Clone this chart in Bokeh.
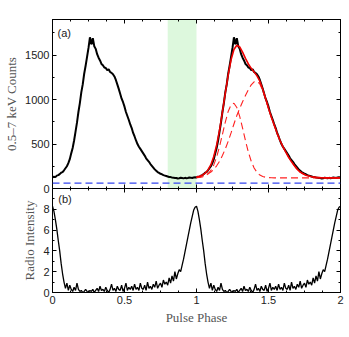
import numpy as np
from bokeh.plotting import figure
from bokeh.layouts import column
from bokeh.models import (Range1d, LinearAxis, BoxAnnotation, Span, Label, SingleIntervalTicker,
                          FixedTicker, CustomJSTickFormatter)
from bokeh.embed import file_html
from bokeh.resources import INLINE

# ---------------- data ----------------
# X-ray (0.5-7 keV) pulse profile, one cycle sampled every 0.01 in phase
XRAY_STEP = 0.01
XRAY_CYCLE = [
    125, 132, 128, 145, 150, 162, 178, 185, 205, 228,
    250, 285, 330, 395, 455, 540, 640, 740, 860, 960,
    1080, 1170, 1290, 1380, 1480, 1580, 1700, 1620, 1690, 1600,
    1570, 1510, 1470, 1440, 1400, 1385, 1360, 1355, 1330, 1340,
    1310, 1300, 1285, 1260, 1220, 1170, 1120, 1065, 1010, 970,
    920, 860, 815, 770, 720, 680, 625, 585, 540, 500,
    470, 445, 420, 395, 370, 340, 320, 300, 275, 255,
    235, 215, 200, 185, 175, 165, 160, 150, 145, 140,
    135, 130, 128, 124, 122, 118, 118, 112, 115, 120,
    117, 114, 120, 116, 118, 123, 122, 118, 124, 126,
]

# radio pulse profile, one cycle sampled every 0.01 in phase
RADIO_STEP = 0.01
RADIO_CYCLE = [
    8.3, 7.8, 7.0, 6.1, 5.0, 4.0, 2.8, 1.8, 1.0, 0.4,
    0.9, 0.2, 0.7, 0.3, 0.1, 0.5, 0.2, 0.9, 0.3, 0.1,
    0.2, 0.0, 0.1, 0.3, 0.1, 0.0, 0.2, 0.1, 0.3, 0.0,
    0.2, 0.4, 0.1, 0.6, 0.2, 0.3, 0.1, 0.5, 0.2, 0.0,
    0.3, 0.8, 0.2, 0.4, 0.1, 0.6, 0.3, 0.2, 0.7, 0.1,
    0.4, 0.9, 0.2, 0.5, 0.3, 0.6, 0.2, 0.8, 0.3, 0.5,
    0.2, 0.9, 0.4, 0.3, 0.7, 0.2, 1.0, 0.4, 0.6, 0.3,
    0.8, 0.5, 1.1, 0.4, 0.7, 0.9, 0.5, 1.2, 0.8, 1.0,
    0.7, 1.4, 0.9, 1.6, 1.1, 2.0, 1.3, 1.8, 2.2, 2.0,
    2.6, 3.2, 3.9, 4.6, 5.3, 6.0, 6.7, 7.3, 7.9, 8.2,
]

# fit (second cycle): phases and the two dashed components (each includes the constant level)
FIT_START = 1.0
FIT_STEP = 0.02
FIT_BASE = 120
FIT_NARROW = [
    122, 124, 130, 141, 164, 203, 265, 355, 472, 608,
    747, 866, 942, 958, 911, 811, 679, 538, 410, 306,
    231, 181, 151, 135, 126, 123, 121,
    120, 120, 120, 120, 120, 120, 120, 120, 120, 120, 120, 120,
    120, 120, 120, 120, 120, 120, 120, 120, 120, 120, 120, 120,
]
FIT_BROAD = [
    128, 133, 140, 150, 165, 185, 215, 255, 305, 370,
    445, 530, 625, 725, 820, 900, 975, 1045, 1110, 1165,
    1200, 1205, 1175, 1100, 1005, 900, 800, 710, 620, 540,
    470, 410, 350, 300, 255, 215, 185, 165, 150, 140,
    133, 128, 124, 122, 121, 120, 120, 120, 120, 120, 120,
]

BKG_LEVEL = 60          # blue dashed background level
ON_WINDOW = (0.8, 1.0)  # green shaded phase interval
N_CYCLES = 2

# ---------------- derived series ----------------
xray_y = np.concatenate([np.tile(XRAY_CYCLE, N_CYCLES), [XRAY_CYCLE[0]]])
xray_x = np.arange(len(xray_y)) * XRAY_STEP
radio_y = np.concatenate([np.tile(RADIO_CYCLE, N_CYCLES), [RADIO_CYCLE[0]]])
radio_x = np.arange(len(radio_y)) * RADIO_STEP
fit_x = FIT_START + np.arange(len(FIT_NARROW)) * FIT_STEP
fit_total = np.array(FIT_NARROW) + np.array(FIT_BROAD) - FIT_BASE

SERIF = "Liberation Serif"
SANS = "Liberation Sans"
LBL_COLOR = "#555555"
TICK_COLOR = "#222222"
OVERLAP = 6  # px of the top canvas (below its frame) that the bottom canvas overlaps


def style_axis(ax, show_labels=True):
    ax.major_tick_in = 4
    ax.major_tick_out = 0
    ax.minor_tick_in = 2
    ax.minor_tick_out = 0
    ax.major_tick_line_color = "black"
    ax.minor_tick_line_color = "black"
    ax.axis_line_color = "black"
    if show_labels:
        ax.major_label_text_font = SANS
        ax.major_label_text_font_size = "11px"
        ax.major_label_text_color = TICK_COLOR
        ax.major_label_standoff = 3
        ax.axis_label_text_font = SERIF
        ax.axis_label_text_font_size = "13px"
        ax.axis_label_text_font_style = "normal"
        ax.axis_label_text_color = LBL_COLOR
        ax.axis_label_standoff = 3
    else:
        ax.formatter = CustomJSTickFormatter(code="return ''")
        ax.major_label_text_font_size = "1px"
        ax.major_label_standoff = 0
        ax.axis_label = None


x_ticker = lambda: SingleIntervalTicker(interval=0.5, num_minor_ticks=4)
y1_ticker = lambda: SingleIntervalTicker(interval=500, num_minor_ticks=2)
y2_ticker = lambda: FixedTicker(ticks=[0, 2, 4, 6, 8], minor_ticks=[1, 3, 5, 7, 9])

# ---------------- top panel ----------------
p1 = figure(width=345, height=188 + OVERLAP, x_range=Range1d(0, 2), y_range=Range1d(0, 1900),
            output_backend="svg", toolbar_location=None,
            min_border_left=52, min_border_right=5, min_border_top=19, min_border_bottom=OVERLAP,
            x_axis_location="below")
p1.grid.visible = False
p1.outline_line_color = "black"
p1.outline_line_width = 1
p1.background_fill_color = "white"

p1.xaxis.ticker = x_ticker()
style_axis(p1.xaxis[0], show_labels=False)
p1.yaxis.ticker = y1_ticker()
p1.yaxis.axis_label = "0.5\u20137 keV Counts"
style_axis(p1.yaxis[0])
ax_r1 = LinearAxis(ticker=y1_ticker())
style_axis(ax_r1, show_labels=False)
p1.add_layout(ax_r1, "right")
ax_t1 = LinearAxis(ticker=x_ticker())
style_axis(ax_t1, show_labels=False)
p1.add_layout(ax_t1, "above")

p1.add_layout(BoxAnnotation(left=ON_WINDOW[0], right=ON_WINDOW[1], fill_color="#ddf8dd",
                            fill_alpha=1.0, line_color=None, level="underlay"))
p1.add_layout(Span(location=BKG_LEVEL, dimension="width", line_color="#3344ee",
                   line_width=1.4, line_dash="7 4"))
p1.line(xray_x, xray_y, line_color="black", line_width=2)
p1.line(fit_x, FIT_NARROW, line_color="#ff2020", line_width=1.1, line_dash="7 4")
p1.line(fit_x, FIT_BROAD, line_color="#ff2020", line_width=1.1, line_dash="7 4")
p1.line(fit_x, fit_total, line_color="#ee0000", line_width=1.6)
p1.add_layout(Label(x=0.035, y=1820, text="(a)", text_font=SANS, text_font_size="11px",
                    text_baseline="top", text_color="#222222"))

# ---------------- bottom panel ----------------
p2 = figure(width=345, height=146, x_range=p1.x_range, y_range=Range1d(0, 10),
            output_backend="svg", toolbar_location=None,
            min_border_left=52, min_border_right=5, min_border_top=0, min_border_bottom=42,
            margin=(-OVERLAP, 0, 0, 0))
p2.grid.visible = False
p2.outline_line_color = "black"
p2.outline_line_width = 1
p2.border_fill_color = None
p2.background_fill_color = "white"

p2.xaxis.ticker = x_ticker()
p2.xaxis.axis_label = "Pulse Phase"
style_axis(p2.xaxis[0])
p2.yaxis.ticker = y2_ticker()
p2.yaxis.axis_label = "Radio Intensity"
style_axis(p2.yaxis[0])
ax_r2 = LinearAxis(ticker=y2_ticker())
style_axis(ax_r2, show_labels=False)
p2.add_layout(ax_r2, "right")
ax_t2 = LinearAxis(ticker=x_ticker())
style_axis(ax_t2, show_labels=False)
p2.add_layout(ax_t2, "above")

p2.line(radio_x, radio_y, line_color="black", line_width=1.3)
p2.add_layout(Label(x=0.04, y=9.6, text="(b)", text_font=SANS, text_font_size="11px",
                    text_baseline="top", text_color="#222222"))

layout = column(p1, p2, spacing=0)
open("out.html", "w").write(file_html(layout, INLINE))
